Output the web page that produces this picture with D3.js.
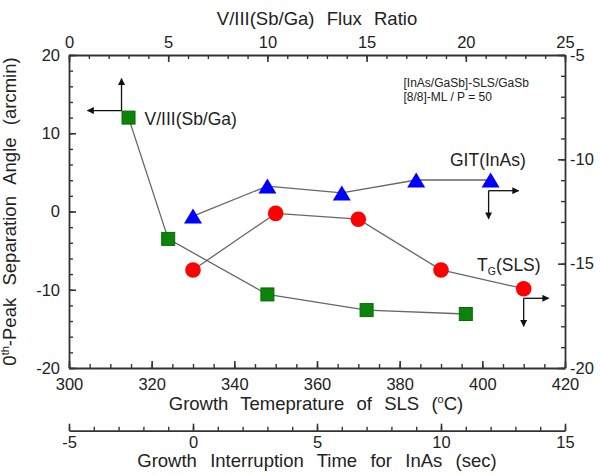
<!DOCTYPE html>
<html>
<head>
<meta charset="utf-8">
<script src="https://cdn.jsdelivr.net/npm/d3@7"></script>
<style>
  html, body { margin: 0; padding: 0; background: #fff; }
  svg { display: block; }
  text { font-family: "Liberation Sans", Arial, sans-serif; fill: #222; }
</style>
</head>
<body>
<svg id="chart" width="600" height="475"></svg>
<script>
// ---- data ----
// V/III(Sb/Ga) series: top axis (flux ratio) vs left axis (arcmin)
const fluxRatio = [3, 5, 10, 15, 20];
const fluxAngle = [12, -3.5, -10.6, -12.6, -13.1];
// T_G(SLS) series: bottom temperature axis vs right axis
const growthTemp = [330, 350, 370, 390, 410];
const tempAngle = [-15.3, -12.59, -12.87, -15.3, -16.2];
// GIT(InAs) series: interruption-time axis vs right axis
const gitTime = [0, 3, 6, 9, 12];
const gitAngle = [-12.72, -11.28, -11.61, -10.99, -10.99];

const leftTicks = [-20, -10, 0, 10, 20];
const rightTicks = [-20, -15, -10, -5];
const topTicks = [0, 5, 10, 15, 20, 25];
const tempTicks = [300, 320, 340, 360, 380, 400, 420];
const timeTicks = [-5, 0, 5, 10, 15];

// ---- layout ----
const L = 69, R = 565, T = 55, B = 368, B2 = 430.7;
const svg = d3.select("#chart");

const xTop = d3.scaleLinear().domain([0, 25]).range([L, R]);
const xTemp = d3.scaleLinear().domain([300, 420]).range([L, R]);
const xTime = d3.scaleLinear().domain([-5, 15]).range([L, R]);
const yLeft = d3.scaleLinear().domain([-20, 20]).range([B, T]);
const yRight = d3.scaleLinear().domain([-20, -5]).range([B, T]);

const axisColor = "#333";
const fs = "16.5px";
const tfs = "18.5px";
const lfs = "17.5px";

function styleAxis(g) {
  g.selectAll("path.domain").attr("stroke", axisColor).attr("stroke-width", 1.8);
  g.selectAll(".tick line").attr("stroke", axisColor).attr("stroke-width", 1.6);
  g.selectAll(".tick text").style("font-size", fs).attr("fill", "#222")
    .style("font-family", '"Liberation Sans", Arial, sans-serif');
}
function minor(g, axis) {
  g.call(axis);
  g.selectAll("text").remove();
  g.select("path.domain").remove();
  g.selectAll(".tick line").attr("stroke", axisColor).attr("stroke-width", 1.4);
}
const fmt = d => String(d);

// minor ticks
svg.append("g").attr("transform", `translate(${L},0)`)
  .call(g => minor(g, d3.axisLeft(yLeft).tickValues(d3.range(-20, 21, 2)).tickSize(-4)));
svg.append("g").attr("transform", `translate(${R},0)`)
  .call(g => minor(g, d3.axisRight(yRight).tickValues(d3.range(-20, -4, 1)).tickSize(-4)));
svg.append("g").attr("transform", `translate(0,${T})`)
  .call(g => minor(g, d3.axisTop(xTop).tickValues(d3.range(0, 26, 1)).tickSize(-4)));
svg.append("g").attr("transform", `translate(0,${B})`)
  .call(g => minor(g, d3.axisBottom(xTemp).tickValues(d3.range(300, 421, 5)).tickSize(-4)));
svg.append("g").attr("transform", `translate(0,${B2})`)
  .call(g => minor(g, d3.axisBottom(xTime).tickValues(d3.range(-5, 16, 1)).tickSize(-4)));

// major axes
svg.append("g").attr("transform", `translate(${L},0)`)
  .call(d3.axisLeft(yLeft).tickValues(leftTicks).tickFormat(fmt).tickSizeInner(-7).tickSizeOuter(0).tickPadding(9))
  .call(styleAxis);
svg.append("g").attr("transform", `translate(${R},0)`)
  .call(d3.axisRight(yRight).tickValues(rightTicks).tickFormat(fmt).tickSizeInner(-7).tickSizeOuter(0).tickPadding(5))
  .call(styleAxis);
svg.append("g").attr("transform", `translate(0,${T})`)
  .call(d3.axisTop(xTop).tickValues(topTicks).tickFormat(fmt).tickSizeInner(-7).tickSizeOuter(0).tickPadding(7))
  .call(styleAxis);
svg.append("g").attr("transform", `translate(0,${B})`)
  .call(d3.axisBottom(xTemp).tickValues(tempTicks).tickFormat(fmt).tickSizeInner(-7).tickSizeOuter(0).tickPadding(10))
  .call(styleAxis);
svg.append("g").attr("transform", `translate(0,${B2})`)
  .call(d3.axisBottom(xTime).tickValues(timeTicks).tickFormat(fmt).tickSizeInner(-7).tickSizeOuter(0).tickPadding(5.5))
  .call(styleAxis);

// axis titles
function title(sel) {
  return sel.style("font-size", tfs).style("white-space", "pre").style("word-spacing", "1px");
}
svg.append("text").attr("x", (L + R) / 2).attr("y", 25).attr("text-anchor", "middle")
  .call(title).text("V/III(Sb/Ga)  Flux  Ratio");

const bt = svg.append("text").attr("x", (L + R) / 2 - 1).attr("y", 410).attr("text-anchor", "middle")
  .call(title);
bt.append("tspan").text("Growth  Temeprature  of  SLS  (");
bt.append("tspan").attr("dy", -7).style("font-size", "11px").text("o");
bt.append("tspan").attr("dy", 7).text("C)");

svg.append("text").attr("x", (L + R) / 2).attr("y", 467).attr("text-anchor", "middle")
  .call(title).style("word-spacing", "1.5px").text("Growth  Interruption  Time  for  InAs  (sec)");

const lt = svg.append("text").attr("transform", `translate(16,${(T + B) / 2}) rotate(-90)`)
  .attr("text-anchor", "middle").call(title);
lt.append("tspan").text("0");
lt.append("tspan").attr("dy", -7).style("font-size", "11px").text("th");
lt.append("tspan").attr("dy", 7).text("-Peak  Separation  Angle  (arcmin)");

// ---- series ----
const lineColor = "#666";
const greenPts = fluxRatio.map((v, i) => [xTop(v), yLeft(fluxAngle[i])]);
const redPts = growthTemp.map((v, i) => [xTemp(v), yRight(tempAngle[i])]);
const bluePts = gitTime.map((v, i) => [xTime(v), yRight(gitAngle[i])]);
const line = d3.line();
[greenPts, redPts, bluePts].forEach(p => {
  svg.append("path").attr("d", line(p)).attr("fill", "none")
    .attr("stroke", lineColor).attr("stroke-width", 1.3);
});

svg.selectAll("rect.g").data(greenPts).join("rect")
  .attr("x", d => d[0] - 6.5).attr("y", d => d[1] - 6.5)
  .attr("width", 13).attr("height", 13)
  .attr("fill", "#0a840a").attr("stroke", "#076a07").attr("stroke-width", 1);

svg.selectAll("circle.r").data(redPts).join("circle")
  .attr("cx", d => d[0]).attr("cy", d => d[1]).attr("r", 7.8)
  .attr("fill", "#ff0000");

const triW = 18, triH = 15;
svg.selectAll("path.b").data(bluePts).join("path")
  .attr("d", d => `M${d[0]},${d[1] - triH / 2}L${d[0] + triW / 2},${d[1] + triH / 2}L${d[0] - triW / 2},${d[1] + triH / 2}Z`)
  .attr("fill", "#0000ff");

// ---- labels ----
svg.append("text").attr("x", greenPts[0][0] + 16).attr("y", greenPts[0][1] + 7)
  .style("font-size", lfs).text("V/III(Sb/Ga)");
svg.append("text").attr("x", 450).attr("y", 165.5)
  .style("font-size", lfs).text("GIT(InAs)");
const tg = svg.append("text").attr("x", 477).attr("y", 270.5).style("font-size", lfs);
tg.append("tspan").text("T");
tg.append("tspan").attr("dy", 4).style("font-size", "10.5px").text("G");
tg.append("tspan").attr("dy", -4).text("(SLS)");

svg.append("text").attr("x", 403.5).attr("y", 86.5).style("font-size", "12px").attr("fill", "#333")
  .text("[InAs/GaSb]-SLS/GaSb");
svg.append("text").attr("x", 403.5).attr("y", 101).style("font-size", "12px").attr("fill", "#333")
  .text("[8/8]-ML / P = 50");

// ---- axis indicator arrows ----
svg.append("defs").append("marker").attr("id", "ah")
  .attr("viewBox", "0 0 10 10").attr("refX", 9).attr("refY", 5)
  .attr("markerWidth", 8).attr("markerHeight", 7).attr("markerUnits", "userSpaceOnUse")
  .attr("orient", "auto")
  .append("path").attr("d", "M0,0L10,5L0,10Z").attr("fill", "#111");

function arrows(ox, oy, segs) {
  segs.forEach(([dx, dy]) => {
    svg.append("line").attr("x1", ox).attr("y1", oy).attr("x2", ox + dx).attr("y2", oy + dy)
      .attr("stroke", "#111").attr("stroke-width", 1.3).attr("marker-end", "url(#ah)");
  });
}
arrows(greenPts[0][0] - 7, greenPts[0][1] - 7, [[0, -32], [-34, 0]]);
arrows(bluePts[4][0] - 2, bluePts[4][1] + 10.7, [[30, 0], [0, 28]]);
arrows(redPts[4][0], redPts[4][1] + 9.6, [[25, 0], [0, 28]]);
</script>
</body>
</html>
